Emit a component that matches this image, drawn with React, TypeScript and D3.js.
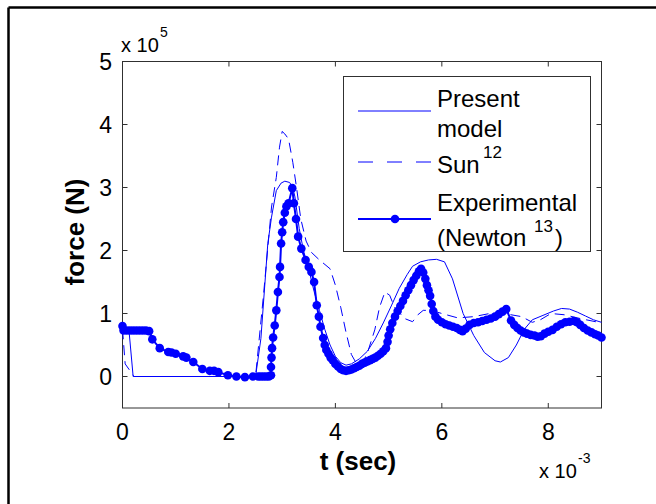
import React from "react";
import * as d3 from "d3";

// ---- data (t in ms, force in 1e5 N) ----
const presentT = [0, 0.12, 0.2, 2.5, 2.6, 2.73, 2.8, 2.89, 2.98, 3.05, 3.14, 3.2, 3.24, 3.32, 3.4, 3.5, 3.6, 3.7, 3.8, 3.9, 4.0, 4.1, 4.2, 4.3, 4.45, 4.6, 4.75, 4.9, 5.05, 5.2, 5.35, 5.45, 5.6, 5.75, 5.9, 6.05, 6.2, 6.4, 6.6, 6.8, 7.0, 7.1, 7.25, 7.4, 7.55, 7.7, 7.9, 8.1, 8.25, 8.4, 8.55, 8.7, 8.85, 9.0];
const presentF = [0.75, 0.75, 0.0, 0.0, 0.6, 2.11, 2.53, 2.95, 3.07, 3.1, 3.08, 3.0, 2.85, 2.35, 2.0, 1.7, 1.35, 1.05, 0.75, 0.5, 0.32, 0.22, 0.18, 0.2, 0.28, 0.4, 0.6, 0.85, 1.12, 1.4, 1.62, 1.75, 1.82, 1.85, 1.86, 1.82, 1.55, 1.0, 0.65, 0.38, 0.25, 0.23, 0.3, 0.5, 0.75, 0.9, 0.97, 1.04, 1.08, 1.07, 1.02, 0.96, 0.9, 0.86];

const sunT = [0, 0.05, 0.2, 0.22, 2.5, 2.65, 2.8, 2.89, 2.95, 3.0, 3.05, 3.12, 3.2, 3.27, 3.35, 3.45, 3.55, 3.7, 3.9, 4.0, 4.1, 4.2, 4.3, 4.4, 4.5, 4.6, 4.74, 4.83, 4.93, 5.02, 5.11, 5.3, 5.45, 5.55, 5.65, 5.8, 6.0, 6.3, 6.6, 6.9, 7.3, 7.5, 7.7, 7.85, 8.05, 8.3, 8.6, 9.0];
const sunF = [0.75, 0.2, 0.02, 0.0, 0.0, 1.3, 2.69, 3.16, 3.64, 3.89, 3.85, 3.77, 3.4, 3.0, 2.5, 2.15, 1.97, 1.85, 1.71, 1.45, 1.1, 0.7, 0.35, 0.2, 0.2, 0.37, 0.74, 1.1, 1.34, 1.29, 1.1, 0.92, 0.87, 0.98, 1.05, 1.05, 1.0, 0.93, 0.95, 1.0, 0.98, 0.95, 0.86, 0.9, 1.0, 0.98, 0.92, 0.85];

const expT = [0.0, 0.02, 0.08, 0.14, 0.2, 0.26, 0.32, 0.38, 0.44, 0.5, 0.56, 0.7, 0.86, 0.92, 1.0, 1.14, 1.2, 1.33, 1.5, 1.64, 1.72, 1.8, 1.98, 2.14, 2.3, 2.45, 2.55, 2.6, 2.65, 2.7, 2.75, 2.79, 2.79, 2.8, 2.81, 2.83, 2.86, 2.89, 2.92, 2.95, 2.96, 2.98, 3.0, 3.02, 3.05, 3.08, 3.12, 3.19, 3.22, 3.26, 3.3, 3.36, 3.44, 3.5, 3.55, 3.6, 3.65, 3.69, 3.72, 3.77, 3.8, 3.83, 3.87, 3.91, 3.95, 4.0, 4.05, 4.1, 4.15, 4.2, 4.25, 4.3, 4.35, 4.4, 4.45, 4.5, 4.55, 4.6, 4.65, 4.7, 4.75, 4.8, 4.85, 4.9, 4.95, 4.98, 5.0, 5.03, 5.07, 5.12, 5.17, 5.22, 5.27, 5.32, 5.37, 5.42, 5.47, 5.52, 5.57, 5.61, 5.65, 5.69, 5.72, 5.75, 5.78, 5.81, 5.84, 5.88, 5.93, 6.0, 6.07, 6.14, 6.21, 6.28, 6.34, 6.39, 6.45, 6.52, 6.6, 6.68, 6.76, 6.84, 6.92, 7.0, 7.07, 7.14, 7.21, 7.3, 7.36, 7.42, 7.48, 7.54, 7.6, 7.67, 7.74, 7.8, 7.86, 7.93, 8.0, 8.08, 8.16, 8.24, 8.32, 8.4, 8.48, 8.54, 8.6, 8.67, 8.74, 8.81, 8.88, 8.94, 9.0];
const expF = [0.8, 0.73, 0.73, 0.73, 0.73, 0.73, 0.73, 0.73, 0.73, 0.72, 0.59, 0.45, 0.39, 0.38, 0.36, 0.32, 0.3, 0.23, 0.12, 0.09, 0.09, 0.07, 0.02, 0.0, -0.01, 0.0, 0.0, 0.0, 0.0, 0.0, 0.0, 0.02, 0.15, 0.3, 0.45, 0.62, 0.81, 1.05, 1.34, 1.58, 1.74, 2.11, 2.29, 2.45, 2.6, 2.7, 2.75, 2.99, 2.75, 2.5, 2.22, 2.03, 1.85, 1.74, 1.66, 1.5, 1.13, 0.95, 0.79, 0.61, 0.5, 0.42, 0.36, 0.3, 0.26, 0.2, 0.16, 0.12, 0.1, 0.09, 0.1, 0.11, 0.13, 0.15, 0.17, 0.2, 0.22, 0.24, 0.26, 0.28, 0.3, 0.33, 0.36, 0.4, 0.45, 0.55, 0.65, 0.75, 0.85, 0.95, 1.04, 1.12, 1.2, 1.29, 1.37, 1.45, 1.53, 1.6, 1.67, 1.71, 1.65, 1.55, 1.45, 1.37, 1.28, 1.15, 1.04, 0.95, 0.9, 0.86, 0.83, 0.81, 0.79, 0.77, 0.74, 0.72, 0.76, 0.82, 0.85, 0.86, 0.88, 0.9, 0.92, 0.95, 0.99, 1.03, 1.07, 0.89, 0.82, 0.77, 0.73, 0.7, 0.68, 0.66, 0.65, 0.63, 0.64, 0.68, 0.71, 0.74, 0.79, 0.83, 0.86, 0.87, 0.88, 0.86, 0.82, 0.77, 0.73, 0.7, 0.67, 0.65, 0.62];

const xTicks = [0, 2, 4, 6, 8];
const yTicks = [0, 1, 2, 3, 4, 5];

const FONT = "'Liberation Sans', Arial, sans-serif";
const BLUE = "#0000ff";
const AX = "#303030";

export default function App() {
  const W = 656, H = 504;
  const x = d3.scaleLinear().domain([0, 9]).range([122.5, 601.5]);
  const y = d3.scaleLinear().domain([-0.5, 5]).range([408, 61.5]);
  const line = d3.line<[number, number]>().x(d => x(d[0])).y(d => y(d[1]));
  const pres = presentT.map((t, i) => [t, presentF[i]] as [number, number]);
  const sun = sunT.map((t, i) => [t, sunF[i]] as [number, number]);
  const exp = expT.map((t, i) => [t, expF[i]] as [number, number]);
  const x0 = x(0), x1 = x(9), y0 = y(-0.5), y1 = y(5);
  const tl = 5;
  const LF = 24;

  return (
    <svg width={W} height={H} style={{ position: "absolute", left: 0, top: 0, background: "#fff" }} fontFamily={FONT}>
      <rect x={0} y={0} width={W} height={H} fill="#fff" />
      {/* outer frame */}
      <line x1={8.5} y1={7.5} x2={W} y2={7.5} stroke="#000" strokeWidth={2.5} />
      <line x1={8.5} y1={7.5} x2={8.5} y2={H} stroke="#000" strokeWidth={2.5} />

      {/* axes box */}
      <rect x={x0} y={y1} width={x1 - x0} height={y0 - y1} fill="#fff" stroke={AX} strokeWidth={1} />
      {xTicks.map(t => (
        <g key={"xt" + t}>
          <line x1={x(t)} x2={x(t)} y1={y0} y2={y0 - tl} stroke={AX} />
          <line x1={x(t)} x2={x(t)} y1={y1} y2={y1 + tl} stroke={AX} />
          <text x={x(t)} y={440} fontSize={23} textAnchor="middle" fill="#000">{t}</text>
        </g>
      ))}
      {yTicks.map(t => (
        <g key={"yt" + t}>
          <line x1={x0} x2={x0 + tl} y1={y(t)} y2={y(t)} stroke={AX} />
          <line x1={x1} x2={x1 - tl} y1={y(t)} y2={y(t)} stroke={AX} />
          <text x={112} y={y(t) + 8} fontSize={23} textAnchor="end" fill="#000">{t}</text>
        </g>
      ))}

      {/* exponent labels */}
      <text x={121} y={52} fontSize={20} fill="#000">x 10</text>
      <text x={160} y={37} fontSize={14} fill="#000">5</text>
      <text x={539} y={478} fontSize={20} fill="#000">x 10</text>
      <text x={578} y={463} fontSize={14} fill="#000">-3</text>

      {/* axis titles */}
      <text x={358} y={470} fontSize={26} fontWeight="bold" textAnchor="middle" fill="#000">t (sec)</text>
      <text transform="translate(84,232) rotate(-90)" fontSize={26} fontWeight="bold" textAnchor="middle" fill="#000">force (N)</text>

      {/* series */}
      <path d={line(pres) || ""} fill="none" stroke={BLUE} strokeWidth={1} />
      <path d={line(sun) || ""} fill="none" stroke={BLUE} strokeWidth={1} strokeDasharray="10,6" />
      <path d={line(exp) || ""} fill="none" stroke={BLUE} strokeWidth={2} />
      {exp.map((d, i) => (
        <circle key={"m" + i} cx={x(d[0])} cy={y(d[1])} r={4.3} fill={BLUE} />
      ))}

      {/* legend */}
      <rect x={343.5} y={76.5} width={247} height={175} fill="#fff" stroke={AX} strokeWidth={1} />
      <line x1={358} x2={431} y1={111} y2={111} stroke={BLUE} strokeWidth={1} />
      <text x={437} y={107} fontSize={LF} fill="#000">Present</text>
      <text x={437} y={137} fontSize={LF} fill="#000">model</text>
      <line x1={358} x2={431} y1={162} y2={162} stroke={BLUE} strokeWidth={1} strokeDasharray="15,14" />
      <text x={437} y={173} fontSize={LF} fill="#000">Sun</text>
      <text x={483} y={158} fontSize={17} fill="#000">12</text>
      <line x1={358} x2={431} y1={219} y2={219} stroke={BLUE} strokeWidth={2} />
      <circle cx={395} cy={219} r={4.3} fill={BLUE} />
      <text x={437} y={211} fontSize={LF} fill="#000">Experimental</text>
      <text x={437} y={246} fontSize={LF} fill="#000">(Newton</text>
      <text x={534} y={232} fontSize={17} fill="#000">13</text>
      <text x={555} y={246} fontSize={LF} fill="#000">)</text>
    </svg>
  );
}
